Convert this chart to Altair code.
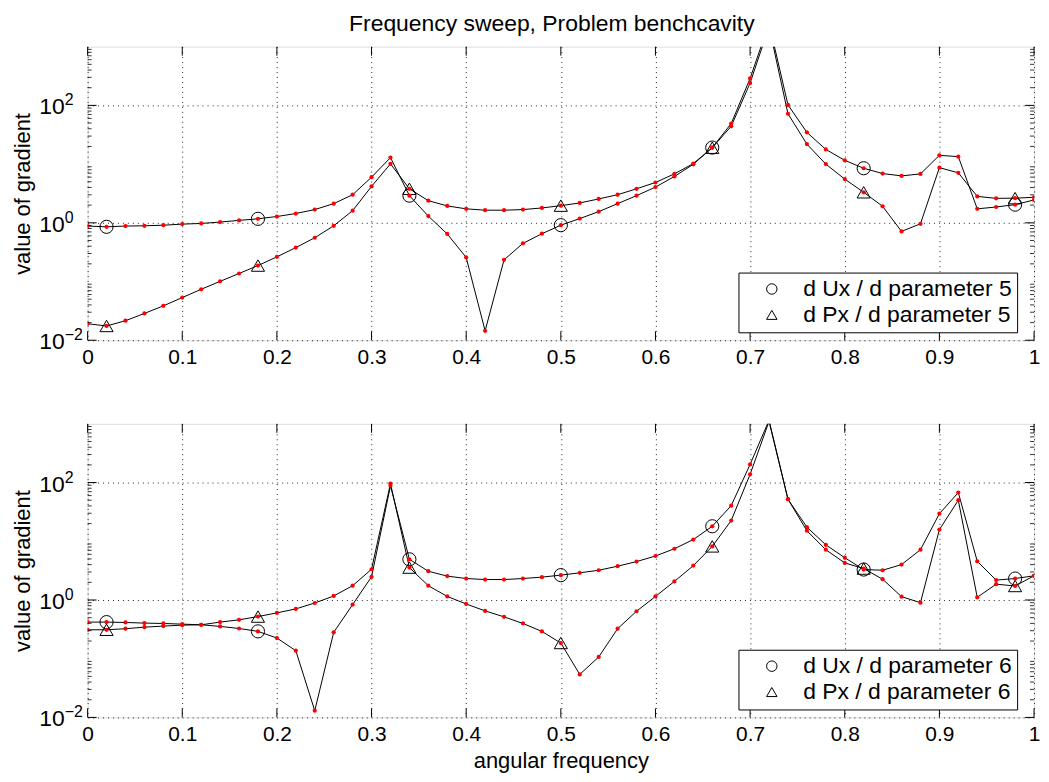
import altair as alt
import pandas as pd

# ---------------- data ----------------
freq = [round(0.02 * i, 2) for i in range(51)]

ux5 = [0.88, 0.855, 0.88, 0.89, 0.91, 0.95, 0.975, 1.03, 1.10, 1.17,
       1.28, 1.44, 1.68, 2.12, 3.01, 5.98, 12.9, 2.90, 1.30, 0.646,
       0.257, 0.0145, 0.234, 0.447, 0.652, 0.912, 1.18, 1.55, 2.12, 2.90,
       4.06, 6.15, 9.93, 19.1, 49.0, 288.0, 2500.0, 102.0, 34.7, 17.8,
       11.6, 8.5, 6.9, 6.3, 6.8, 14.1, 13.4, 1.73, 1.86, 2.04, 2.45]
px5 = [0.0191, 0.0175, 0.0215, 0.0286, 0.0385, 0.0533, 0.0738, 0.1007, 0.137, 0.187,
       0.263, 0.378, 0.557, 0.889, 1.61, 4.17, 10.1, 3.80, 2.38, 1.94,
       1.73, 1.64, 1.64, 1.68, 1.79, 1.96, 2.18, 2.55, 3.01, 3.80,
       4.86, 6.82, 10.2, 19.0, 44.0, 240.0, 2200.0, 72.0, 21.9, 10.0,
       5.55, 3.31, 1.91, 0.714, 0.962, 8.7, 7.1, 2.82, 2.61, 2.63, 2.72]
ux6 = [0.42, 0.42, 0.414, 0.404, 0.398, 0.388, 0.378, 0.355, 0.327, 0.292,
       0.225, 0.137, 0.013, 0.281, 0.834, 2.48, 88.0, 4.93, 3.09, 2.55,
       2.32, 2.23, 2.23, 2.32, 2.45, 2.65, 2.90, 3.21, 3.76, 4.51,
       5.61, 7.46, 10.7, 18.0, 40.4, 204.0, 1150.0, 52.0, 17.4, 8.7,
       5.25, 3.30, 3.21, 4.01, 7.18, 29.5, 67.6, 4.56, 2.18, 2.32, 2.58]
px6 = [0.311, 0.311, 0.324, 0.345, 0.359, 0.373, 0.378, 0.42, 0.459, 0.522,
       0.603, 0.705, 0.889, 1.17, 1.75, 3.34, 96.0, 3.56, 1.75, 1.15,
       0.855, 0.652, 0.516, 0.398, 0.292, 0.185, 0.054, 0.107, 0.324, 0.643,
       1.15, 2.07, 3.85, 8.18, 22.5, 138.0, 1100.0, 52.0, 15.1, 7.18,
       4.28, 3.43, 2.26, 1.14, 0.90, 15.8, 50.0, 1.11, 1.86, 1.73, 2.58]

labels5 = ["d Ux / d parameter 5", "d Px / d parameter 5"]
labels6 = ["d Ux / d parameter 6", "d Px / d parameter 6"]
marker_idx = [1, 9, 17, 25, 33, 41, 49]

x_ticks = [0, 0.1, 0.2, 0.3, 0.4, 0.5, 0.6, 0.7, 0.8, 0.9, 1.0]
y_ticks = [0.01, 1, 100]
y_base = ["10", "10", "10"]
y_exp = ["\u22122", "0", "2"]
y_minor = [k * 10.0 ** e for e in range(-2, 3) for k in range(2, 10)]

TITLE = "Frequency sweep, Problem benchcavity"
XTITLE = "angular frequency"
YTITLE = "value of gradient"

W, H = 951, 295
FONT = "Liberation Sans"


def panel(u, p, labs, with_title, with_xtitle):
    df = pd.DataFrame({
        "f": freq + freq,
        "v": u + p,
        "s": [labs[0]] * len(freq) + [labs[1]] * len(freq),
    })
    mk = pd.DataFrame({
        "f": [freq[i] for i in marker_idx] * 2,
        "v": [u[i] for i in marker_idx] + [p[i] for i in marker_idx],
        "s": [labs[0]] * len(marker_idx) + [labs[1]] * len(marker_idx),
    })
    xt = pd.DataFrame({"f": x_ticks})
    yt = pd.DataFrame({"v": y_ticks, "b": y_base, "e": y_exp})
    ym = pd.DataFrame({"v": y_minor})

    xs = alt.Scale(domain=[0, 1], nice=False, zero=False)
    ys = alt.Scale(type="log", domain=[0.01, 1000], nice=False)

    grid_kw = dict(grid=True, gridColor="black", gridDash=[1, 4], gridOpacity=0.85,
                   gridWidth=1)
    x_main = alt.X("f:Q", scale=xs, axis=alt.Axis(
        values=x_ticks, format="~g", ticks=False, tickSize=0, domain=False,
        labelFontSize=21, labelPadding=6, labelFlush=False, labelFont=FONT,
        labelColor="black",
        title=XTITLE if with_xtitle else None, titleFontSize=22, titleFontWeight="normal",
        titleFont=FONT, titleColor="black", titlePadding=6, **grid_kw))
    y_main = alt.Y("v:Q", scale=ys, axis=alt.Axis(
        values=y_ticks, labels=False, ticks=False, tickSize=0, domain=False,
        title=YTITLE, titleFontSize=22, titleFontWeight="normal", titleFont=FONT,
        titleColor="black", titlePadding=53, **grid_kw))

    xq = alt.X("f:Q", scale=xs)
    yq = alt.Y("v:Q", scale=ys)

    lines = alt.Chart(df).mark_line(color="black", strokeWidth=1, clip=True).encode(
        x=x_main, y=y_main, detail="s:N")
    markers = alt.Chart(mk).mark_point(filled=False, color="black", strokeWidth=1,
                                       size=175, opacity=1, clip=True).encode(
        x=xq, y=yq,
        shape=alt.Shape("s:N", scale=alt.Scale(domain=labs, range=["circle", "triangle-up"]),
                        legend=alt.Legend(
                            title=None, orient="none", legendX=654, legendY=227,
                            fillColor="white", strokeColor="black", padding=5,
                            labelFontSize=23, labelFont=FONT, labelColor="black",
                            symbolStrokeColor="black", symbolFillColor="transparent",
                            symbolStrokeWidth=1, symbolSize=110, symbolOffset=17,
                            labelOffset=20, rowPadding=2, labelLimit=400)))
    dots = alt.Chart(df).mark_circle(color="red", size=18, opacity=1, clip=True).encode(
        x=xq, y=yq)

    tb = alt.Chart(xt).mark_rule(color="black", strokeWidth=1).encode(
        x=xq, y=alt.value(H), y2=alt.value(H - 9))
    tt = alt.Chart(xt).mark_rule(color="black", strokeWidth=1).encode(
        x=xq, y=alt.value(0), y2=alt.value(9))
    tl = alt.Chart(yt).mark_rule(color="black", strokeWidth=1).encode(
        y=yq, x=alt.value(0), x2=alt.value(9))
    tr = alt.Chart(yt).mark_rule(color="black", strokeWidth=1).encode(
        y=yq, x=alt.value(W), x2=alt.value(W - 9))
    ml = alt.Chart(ym).mark_rule(color="black", strokeWidth=1, opacity=0.8).encode(
        y=yq, x=alt.value(0), x2=alt.value(4))
    mr = alt.Chart(ym).mark_rule(color="black", strokeWidth=1, opacity=0.8).encode(
        y=yq, x=alt.value(W), x2=alt.value(W - 4))

    base_lab = alt.Chart(yt).mark_text(align="right", baseline="middle", fontSize=23,
                                       font=FONT, color="black", dy=2).encode(
        y=yq, x=alt.value(-23), text="b:N")
    exp_lab = alt.Chart(yt).mark_text(align="left", baseline="alphabetic", fontSize=16,
                                      font=FONT, color="black", dy=0).encode(
        y=yq, x=alt.value(-23), text="e:N")

    kw = dict(width=W, height=H)
    if with_title:
        kw["title"] = alt.TitleParams(TITLE, fontSize=23, fontWeight="normal", font=FONT,
                                      color="black", anchor="middle", offset=10, dx=-9)
    return alt.layer(lines, markers, dots, tb, tt, tl, tr, ml, mr, base_lab, exp_lab).properties(**kw)


top = panel(ux5, px5, labels5, True, False)
bottom = panel(ux6, px6, labels6, False, True)

chart = alt.vconcat(top, bottom, spacing=55).resolve_scale(shape="independent").properties(
    padding={"left": 3, "right": 0, "top": 3, "bottom": 0}
).configure_view(stroke="black", strokeWidth=1).configure(background="white")

chart.save("out.html", embed_options={"renderer": "svg", "actions": False})
